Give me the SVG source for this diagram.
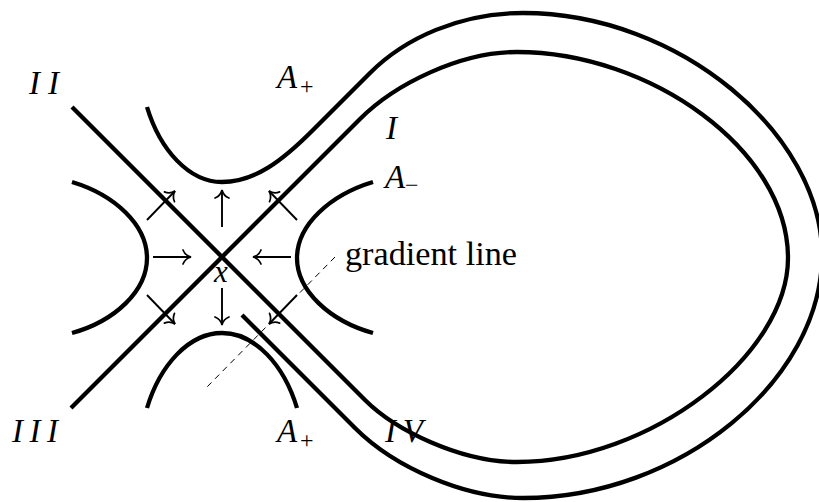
<svg xmlns="http://www.w3.org/2000/svg" width="819" height="502" viewBox="0 0 819 502">
<style>
.thick{fill:none;stroke:#000;stroke-width:4.3;stroke-linecap:butt}
.arr{fill:none;stroke:#000;stroke-width:1.9;marker-end:url(#to)}
.dash{fill:none;stroke:#000;stroke-width:1;stroke-dasharray:6 5}
.lbl{font-family:"Liberation Serif","DejaVu Serif",serif;font-style:italic;font-size:33px;fill:#000}
.sub{font-family:"Liberation Serif","DejaVu Serif",serif;font-size:24px;fill:#000}
.rom{font-family:"Liberation Serif","DejaVu Serif",serif;font-size:34px;fill:#000}
</style>
<defs>
<marker id="to" markerUnits="userSpaceOnUse" markerWidth="20" markerHeight="20" refX="0" refY="0" orient="auto" overflow="visible">
<path d="M-8,-7 C-6.5,-3.2 -2.8,-0.7 0,0 C-2.8,0.7 -6.5,3.2 -8,7" fill="none" stroke="#000" stroke-width="1.7" stroke-linecap="round"/>
</marker>
</defs>
<rect width="819" height="502" fill="#fff"/>
<g id="curves">
<path id="inner-loop" class="thick" d="M72,107 L365,400 C395,430 460,462 517,462 C650,462 788,355 788,258 C788,150 650,52 517,52 C460,52 395,84 360,119 L71,408"/>
<path id="outer-loop" class="thick" d="M147,107 C160,150 189,182 222,182 C255,182 283,160 312,131 L370,73 C405,38 460,13 523,13 C680,13 822,135 822,255 C822,380 680,498 523,498 C465,498 395,468 355,428 L242,315"/>
<path id="left-branch" class="thick" d="M72,182 C115,195 147,225 147,258 C147,291 115,321 72,333"/>
<path id="right-branch" class="thick" d="M373,182 C330,195 297,225 297,258 C297,291 330,321 373,333"/>
<path id="bottom-branch" class="thick" d="M147,408 C160,365 189,333 222,333 C255,333 284,365 297,408"/>
</g>
<g id="connectors">
<line class="dash" x1="335" y1="257" x2="207" y2="387"/>
<line class="arr" x1="153" y1="257" x2="191" y2="257"/>
<line class="arr" x1="291" y1="257" x2="253" y2="257"/>
<line class="arr" x1="222" y1="227" x2="222" y2="190"/>
<line class="arr" x1="222" y1="288" x2="222" y2="325"/>
<line class="arr" x1="147" y1="220" x2="175" y2="191"/>
<line class="arr" x1="297" y1="220" x2="269" y2="191"/>
<line class="arr" x1="147" y1="295" x2="175" y2="324"/>
<line class="arr" x1="297" y1="295" x2="269" y2="324"/>
</g>
<g id="labels">
<text class="lbl" x="29" y="94" textLength="30" lengthAdjust="spacing">II</text>
<text class="lbl" x="12" y="442" textLength="46" lengthAdjust="spacing">III</text>
<text class="lbl" x="386" y="139">I</text>
<text class="lbl" x="385" y="442" textLength="38" lengthAdjust="spacing">IV</text>
<text class="lbl" x="277" y="88">A</text><text class="sub" x="300" y="94">+</text>
<text class="lbl" x="277" y="442">A</text><text class="sub" x="300" y="448">+</text>
<text class="lbl" x="385" y="188">A</text><text class="sub" x="405" y="193">−</text>
<text class="lbl" x="214" y="282" style="font-size:31px">x</text>
<text class="rom" x="345" y="265" textLength="172" lengthAdjust="spacingAndGlyphs">gradient line</text>
</g>
</svg>
